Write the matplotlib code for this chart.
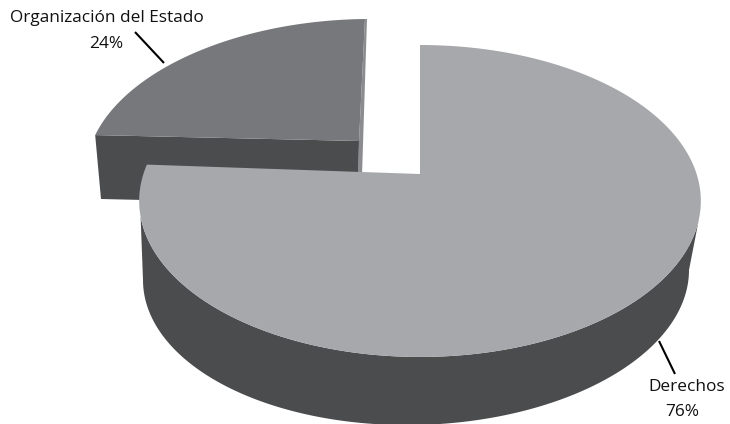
import numpy as np
import matplotlib
matplotlib.use("Agg")
import matplotlib.pyplot as plt

categories = ["Derechos", "Organización del Estado"]
values = [76, 24]

TOP_COLOR = ["#a7a8ab", "#77787b"]
WALL_COLOR = "#4b4c4e"
SLIVER_COLOR = "#8b8c8f"

fig = plt.figure(figsize=(7.3, 4.24), dpi=100)
ax = fig.add_axes([0, 0, 1, 1])
ax.set_xlim(0, 730)
ax.set_ylim(424, 0)
ax.axis("off")


def project(frac, ax0, ay0, d, a, c=0.173, shear=0.0, tilt=0.0):
    """Perspective view of a point on the pie's rim, frac clockwise from 12 o'clock."""
    th = 2 * np.pi * np.asarray(frac)
    x, y = np.sin(th), np.cos(th)
    w = 1 + c * y
    Y = (ay0 + a * y + tilt * x) / w
    X = ax0 + d * x / w + shear * (Y - ay0)
    return X, Y


f1 = values[0] / sum(values)
rim1 = np.linspace(0, f1, 400)
rim2 = np.linspace(f1, 1, 200)

# Organización del Estado: detached slice
X2, Y2 = project(rim2, 359, 141, 267.5, -118.7, shear=-0.049, tilt=-3)
ax.fill([X2[0], 359, 358, 101], [Y2[0], 141, 205, 199], color=WALL_COLOR, lw=0, zorder=1)
ax.fill([X2[-1], X2[-1] + 2, 362, 358, 359], [Y2[-1], Y2[-1], 176, 176, 141],
        color=SLIVER_COLOR, lw=0, zorder=1)
ax.fill(np.r_[359, X2], np.r_[141, Y2], color=TOP_COLOR[1], lw=0, zorder=2)

# Derechos: side wall, then top face
Xt, Yt = project(rim1, 420, 174, 276.6, -121.2)
cx, cy, rx, ry = 416, 275, 273, 150
t = np.linspace(0, np.pi, 300)
bx, by = cx + rx * np.cos(t), cy + ry * np.sin(t) - 5 * np.cos(t)
front = Yt > 215
ax.fill(np.r_[bx, Xt[front][::-1]], np.r_[by, Yt[front][::-1]],
        color=WALL_COLOR, lw=0, zorder=3)
ax.fill(np.r_[420, Xt], np.r_[174, Yt], color=TOP_COLOR[0], lw=0, zorder=4)

# Leader lines and labels
ax.plot([135, 164], [32, 63], color="black", lw=1.5, zorder=5, solid_capstyle="butt")
ax.plot([659, 675], [341, 374], color="black", lw=1.5, zorder=5, solid_capstyle="butt")

font = dict(family="Open Sans", fontsize=12.4, color="#111111", ha="center", va="center", zorder=6)
ax.text(107, 18, categories[1], **font)
ax.text(106, 44, f"{values[1]}%", **font)
ax.text(687, 387, categories[0], **font)
ax.text(682, 412, f"{values[0]}%", **font)

fig.savefig("out.png", dpi=100)
